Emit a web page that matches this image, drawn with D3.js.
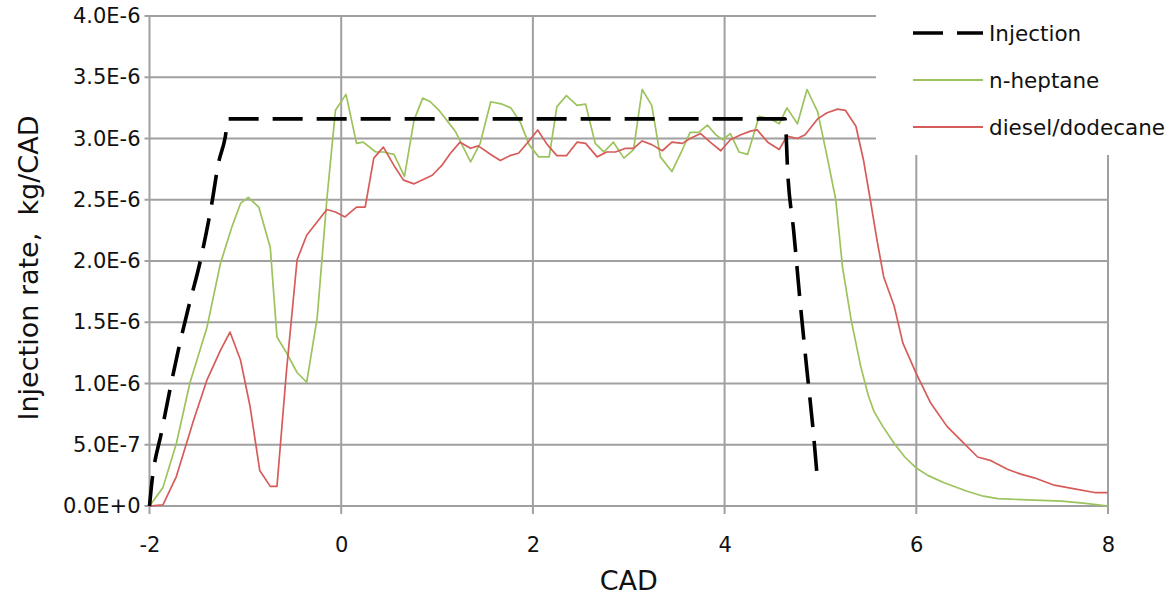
<!DOCTYPE html>
<html><head><meta charset="utf-8">
<script src="https://cdn.jsdelivr.net/npm/d3@7"></script>
<style>body{margin:0;background:#fff}svg{display:block}text{font-family:"DejaVu Sans",sans-serif;fill:#111}</style>
</head><body><svg id="c" width="1175" height="600"></svg>
<script>
// values in units of 1e-6 kg/CAD
const injX=[-2.0,-1.98,-1.87,-1.70,-1.60,-1.47,-1.35,-1.28,-1.21,-1.18,4.63,4.66,4.72,4.79,4.86,4.92,4.97];
const injY=[0,0.16,0.62,1.27,1.6,2.0,2.47,2.8,3.01,3.16,3.16,2.7,2.25,1.65,1.1,0.65,0.2];
const hepX=[-2.0,-1.86,-1.72,-1.58,-1.40,-1.26,-1.14,-1.05,-0.97,-0.86,
-0.74,-0.67,-0.57,-0.46,-0.36,-0.25,-0.15,-0.06,0.05,0.16,
0.23,0.36,0.44,0.55,0.66,0.76,0.85,0.93,1.02,1.10,
1.19,1.26,1.35,1.45,1.56,1.68,1.77,1.87,1.96,2.06,
2.17,2.25,2.35,2.46,2.55,2.65,2.74,2.84,2.95,3.05,
3.14,3.24,3.33,3.45,3.56,3.64,3.73,3.82,3.91,3.98,
4.06,4.15,4.24,4.36,4.48,4.57,4.65,4.76,4.86,4.97,
5.07,5.16,5.23,5.32,5.42,5.50,5.56,5.65,5.77,5.88,
6.0,6.12,6.29,6.53,6.70,6.85,7.16,7.52,7.79,8.0];
const hepY=[0,0.15,0.51,1.0,1.46,1.98,2.28,2.47,2.52,2.44,
2.11,1.38,1.25,1.09,1.01,1.54,2.50,3.23,3.36,2.96,
2.97,2.89,2.89,2.87,2.69,3.15,3.33,3.30,3.23,3.15,
3.06,2.95,2.81,2.96,3.30,3.28,3.25,3.13,2.95,2.85,
2.85,3.26,3.35,3.27,3.28,2.96,2.89,2.97,2.84,2.91,
3.40,3.27,2.85,2.73,2.91,3.05,3.05,3.11,3.03,2.99,
3.04,2.89,2.87,3.18,3.16,3.12,3.25,3.12,3.40,3.22,
2.85,2.50,1.95,1.52,1.14,0.90,0.77,0.65,0.51,0.40,
0.31,0.25,0.19,0.12,0.08,0.06,0.05,0.04,0.02,0.0];
const dieX=[-2.0,-1.86,-1.72,-1.54,-1.40,-1.26,-1.16,-1.05,-0.95,-0.85,
-0.74,-0.67,-0.57,-0.46,-0.36,-0.25,-0.15,-0.06,0.04,0.16,
0.25,0.34,0.44,0.55,0.65,0.76,0.84,0.95,1.05,1.14,
1.24,1.35,1.43,1.56,1.66,1.76,1.85,1.97,2.05,2.15,
2.25,2.35,2.46,2.55,2.67,2.77,2.86,2.97,3.05,3.14,
3.24,3.35,3.45,3.56,3.64,3.75,3.85,3.96,4.06,4.17,
4.27,4.34,4.45,4.57,4.65,4.76,4.84,4.97,5.07,5.18,
5.26,5.37,5.45,5.52,5.59,5.66,5.77,5.86,6.0,6.15,
6.32,6.50,6.64,6.78,6.95,7.09,7.23,7.44,7.65,7.86,8.0];
const dieY=[0,0.01,0.24,0.70,1.03,1.27,1.42,1.19,0.81,0.29,
0.16,0.16,1.11,2.01,2.21,2.32,2.42,2.40,2.36,2.44,
2.44,2.84,2.93,2.78,2.66,2.63,2.66,2.70,2.78,2.88,
2.97,2.92,2.94,2.87,2.82,2.86,2.88,2.99,3.07,2.95,
2.86,2.86,2.97,2.96,2.85,2.89,2.89,2.92,2.92,2.98,
2.95,2.90,2.97,2.96,3.0,3.04,2.97,2.90,2.99,3.03,
3.06,3.07,2.97,2.91,3.02,3.0,3.03,3.16,3.21,3.24,
3.23,3.10,2.82,2.50,2.17,1.87,1.63,1.33,1.08,0.84,
0.65,0.51,0.40,0.37,0.30,0.26,0.23,0.17,0.14,0.11,0.11];
const xTicks=[-2,0,2,4,6,8];
const xTickLabels=["-2","0","2","4","6","8"];
const yTicks=[0,0.5,1,1.5,2,2.5,3,3.5,4];
const yTickLabels=["0.0E+0","5.0E-7","1.0E-6","1.5E-6","2.0E-6","2.5E-6","3.0E-6","3.5E-6","4.0E-6"];
const seriesNames=["Injection","n-heptane","diesel/dodecane"];

const svg=d3.select("#c");
const L=149.5,R=1108,T=16,B=506;
const x=d3.scaleLinear().domain([-2,8]).range([L,R]);
const y=d3.scaleLinear().domain([0,4]).range([B,T]);
const gridC="#a0a0a0";

// gridlines
svg.append("g").selectAll("line").data(yTicks).join("line")
 .attr("x1",L-5).attr("x2",R).attr("y1",d=>y(d)).attr("y2",d=>y(d))
 .attr("stroke",gridC).attr("stroke-width",2);
svg.append("g").selectAll("line").data(xTicks).join("line")
 .attr("x1",d=>x(d)).attr("x2",d=>x(d)).attr("y1",T).attr("y2",B+8)
 .attr("stroke",gridC).attr("stroke-width",2);

const ax=svg.append("g").attr("transform",`translate(0,${B})`)
 .call(d3.axisBottom(x).tickValues(xTicks).tickSize(0).tickPadding(31).tickFormat((d,i)=>xTickLabels[i]));
ax.select(".domain").remove();
ax.selectAll("text").attr("font-size",21).attr("font-family","DejaVu Sans").attr("fill","#111");
const ay=svg.append("g").attr("transform",`translate(${L},0)`)
 .call(d3.axisLeft(y).tickValues(yTicks).tickSize(0).tickPadding(9).tickFormat((d,i)=>yTickLabels[i]));
ay.select(".domain").remove();
ay.selectAll("text").attr("font-size",21).attr("font-family","DejaVu Sans").attr("fill","#111");

const line=d3.line().x(d=>x(d[0])).y(d=>y(d[1]));
const zip=(a,b)=>a.map((v,i)=>[v,b[i]]);
svg.append("path").datum(zip(hepX,hepY)).attr("d",line).attr("fill","none")
 .attr("stroke","#9cc35c").attr("stroke-width",1.7).attr("stroke-linejoin","round");
svg.append("path").datum(zip(dieX,dieY)).attr("d",line).attr("fill","none")
 .attr("stroke","#d65c59").attr("stroke-width",1.7).attr("stroke-linejoin","round");
svg.append("path").datum(zip(injX,injY)).attr("d",d3.line().x(d=>x(d[0])).y(d=>y(d[1])).curve(d3.curveMonotoneX))
 .attr("fill","none").attr("stroke","#000").attr("stroke-width",3.6).attr("stroke-dasharray","30,14");

// legend
const lg=svg.append("g");
lg.append("rect").attr("x",876).attr("y",0).attr("width",299).attr("height",155).attr("fill","#fff");
const lgStyles=[{c:"#000",w:3.6,da:"30,14"},{c:"#9cc35c",w:1.8,da:null},{c:"#d65c59",w:1.8,da:null}];
const lgY=[33,80,127];
seriesNames.forEach((n,i)=>{
 lg.append("line").attr("x1",913).attr("x2",983).attr("y1",lgY[i]).attr("y2",lgY[i])
  .attr("stroke",lgStyles[i].c).attr("stroke-width",lgStyles[i].w).attr("stroke-dasharray",lgStyles[i].da);
 lg.append("text").attr("x",989).attr("y",lgY[i]).attr("dy","0.35em").attr("font-size",21.5).text(n);
});

// titles
svg.append("text").attr("x",(L+R)/2).attr("y",590).attr("text-anchor","middle").attr("font-size",27).text("CAD");
svg.append("text").attr("transform",`translate(38,268) rotate(-90)`).attr("text-anchor","middle")
 .attr("font-size",27).style("white-space","pre").text("Injection rate,  kg/CAD");
</script></body></html>
